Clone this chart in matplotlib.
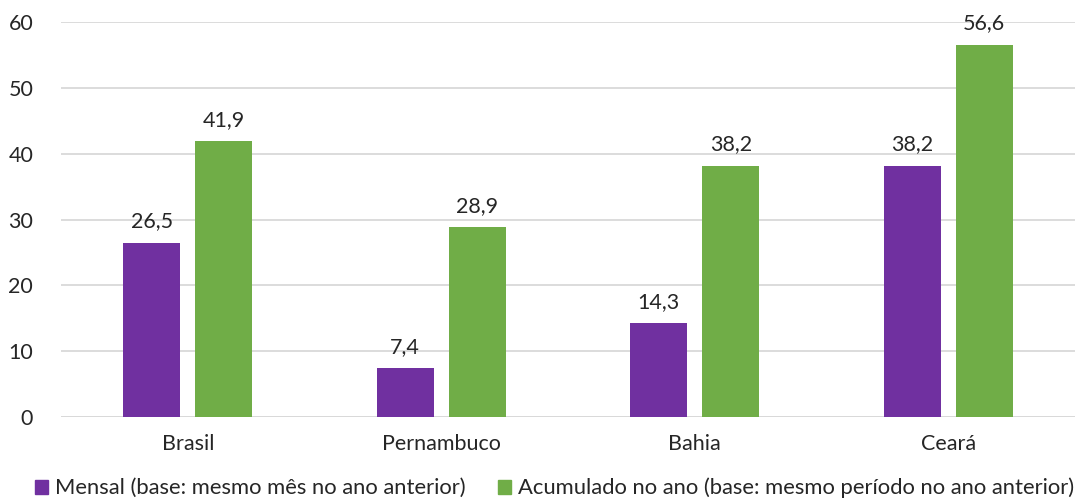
import numpy as np
import matplotlib.pyplot as plt
from matplotlib.patches import Patch

# ----- Data ----- #
regioes = ["Brasil", "Pernambuco", "Bahia", "Ceará"]
mensal = [26.5, 7.4, 14.3, 38.2]
acumulado = [41.9, 28.9, 38.2, 56.6]
serie_labels = ["Mensal (base: mesmo mês no ano anterior)",
                "Acumulado no ano (base: mesmo período no ano anterior)"]
yticks = [0, 10, 20, 30, 40, 50, 60]

# ----- Style ----- #
ROXO = "#7030A0"
VERDE = "#70AD47"
GRADE = "#D9D9D9"
TEXTO = "#262626"
FONTE = 15.5
plt.rcParams['font.family'] = ['Lato', 'DejaVu Sans']

fig = plt.figure(figsize=(10.81, 5.03), dpi=100)
ax = fig.add_axes([0.0564, 0.171, 0.938, 0.785])

x = np.arange(len(regioes))
largura = 0.225
desloc = 0.142

b1 = ax.bar(x - desloc, mensal, largura, color=ROXO, zorder=3)
b2 = ax.bar(x + desloc, acumulado, largura, color=VERDE, zorder=3)

# Value labels with comma decimals
for barras, valores in ((b1, mensal), (b2, acumulado)):
    for b, v in zip(barras, valores):
        ax.annotate(f"{v:.1f}".replace(".", ","),
                    (b.get_x() + b.get_width() / 2, v),
                    xytext=(0, 8), textcoords="offset points",
                    ha="center", va="bottom", fontsize=FONTE, color=TEXTO)

ax.set_xlim(-0.5, len(regioes) - 0.5)
ax.set_ylim(0, 60)
ax.set_yticks(yticks)
ax.set_xticks(x)
ax.set_xticklabels(regioes)
ax.tick_params(axis="both", length=0, labelsize=FONTE, colors=TEXTO)
ax.tick_params(axis="y", pad=20)
ax.tick_params(axis="x", pad=12)
ax.yaxis.grid(True, color=GRADE, linewidth=1.3, zorder=0)
for s in ax.spines.values():
    s.set_visible(False)
ax.axhline(0, color=GRADE, linewidth=1.3, zorder=1)

handles = [Patch(color=ROXO), Patch(color=VERDE)]
fig.legend(handles, serie_labels, loc="lower center", ncol=2,
           bbox_to_anchor=(0.513, -0.03), frameon=False, fontsize=15.8,
           handlelength=0.6, handleheight=0.6, handletextpad=0.3,
           columnspacing=1.5, labelcolor=TEXTO)

fig.savefig("out.png", dpi=100)
